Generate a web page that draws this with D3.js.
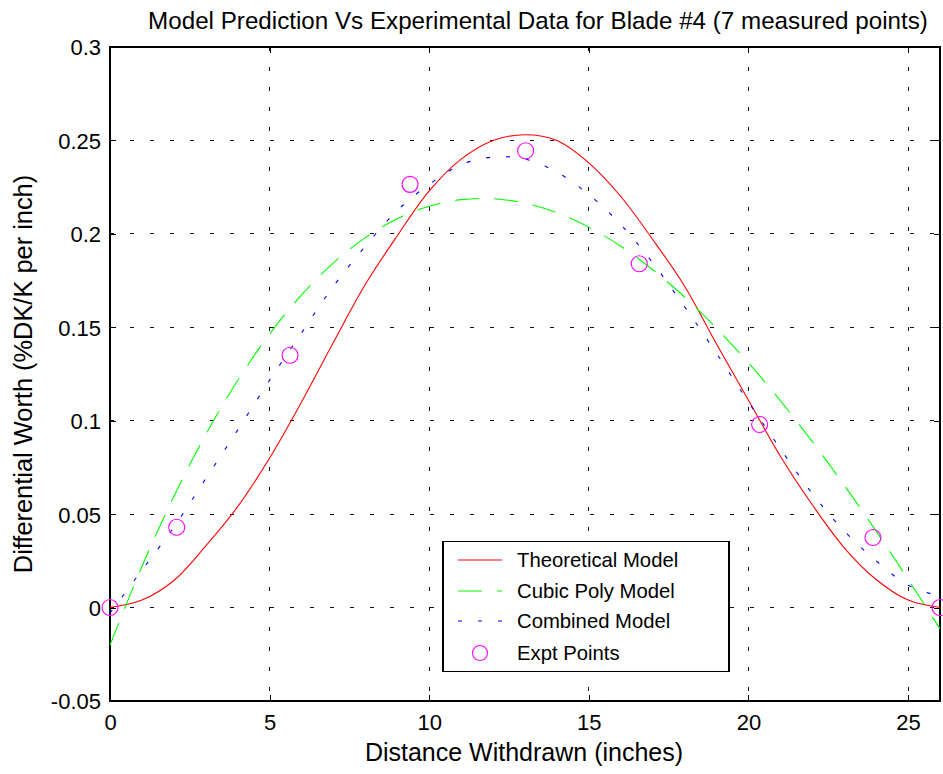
<!DOCTYPE html>
<html>
<head>
<meta charset="utf-8">
<script src="https://cdn.jsdelivr.net/npm/d3@7"></script>
<style>
  html, body { margin: 0; padding: 0; background: #fff; overflow: hidden; }
  svg { display: block; font-family: "Liberation Sans", Arial, sans-serif; }
</style>
</head>
<body>
<svg id="chart" width="943" height="774"></svg>
<script>
// ---- Data ----
const xGrid = [0,1,2,3,4,5,6,7,8,9,10,11,12,13,14,15,16,17,18,19,20,21,22,23,24,25,26];
const theoretical = [0,0.004,0.0145,0.033,0.054,0.080,0.110,0.142,0.173,0.199,0.223,0.240,0.250,0.253,0.250,0.238,0.220,0.197,0.172,0.141,0.111,0.081,0.055,0.032,0.015,0.004,0];
const cubicPoly = [-0.020,0.022,0.0595,0.0926,0.1215,0.1464,0.1673,0.1845,0.198,0.2081,0.2148,0.2183,0.2188,0.2164,0.2113,0.2036,0.1934,0.1808,0.1662,0.1495,0.1309,0.1107,0.0888,0.0655,0.0409,0.0151,-0.0114];
const combined = [-0.003,0.020,0.043,0.069,0.095,0.1217,0.147,0.172,0.1934,0.2125,0.2265,0.237,0.2411,0.240,0.233,0.221,0.205,0.1845,0.161,0.136,0.110,0.085,0.061,0.041,0.025,0.012,0.006];
const exptX = [0,2.09,5.64,9.4,13.02,16.58,20.35,23.9,26];
const exptY = [0,0.043,0.135,0.2265,0.2445,0.184,0.098,0.0375,0];
const xTicks = [0,5,10,15,20,25];
const yTicks = [-0.05,0,0.05,0.1,0.15,0.2,0.25,0.3];
const legendLabels = ["Theoretical Model","Cubic Poly Model","Combined Model","Expt Points"];
const titleText = "Model Prediction Vs Experimental Data for Blade #4 (7 measured points)";
const xLabelText = "Distance Withdrawn (inches)";
const yLabelText = "Differential Worth (%DK/K per inch)";

// ---- Layout ----
const L = 110, R = 940, T = 47, B = 701;
const svg = d3.select("#chart");
const x = d3.scaleLinear().domain([0, 26]).range([L, R]);
const y = d3.scaleLinear().domain([-0.05, 0.3]).range([B, T]);

// grid
const grid = svg.append("g").attr("stroke", "#111").attr("stroke-width", 1)
  .attr("stroke-dasharray", "4,16").attr("shape-rendering", "crispEdges");
xTicks.forEach(t => {
  if (t === 0) return;
  grid.append("line").attr("x1", x(t)).attr("x2", x(t)).attr("y1", T).attr("y2", B);
});
yTicks.forEach(t => {
  if (t === -0.05 || t === 0.3) return;
  grid.append("line").attr("x1", L).attr("x2", R).attr("y1", y(t)).attr("y2", y(t));
});

// axes (ticks inward on all sides)
const fs = 22;
const fmt = d => String(+(+d).toFixed(2));
const axB = svg.append("g").attr("transform", `translate(0,${B})`)
  .call(d3.axisBottom(x).tickValues(xTicks).tickSizeInner(-6).tickSizeOuter(0).tickPadding(13).tickFormat(fmt));
const axT = svg.append("g").attr("transform", `translate(0,${T})`)
  .call(d3.axisTop(x).tickValues(xTicks).tickSizeInner(-6).tickSizeOuter(0).tickFormat(""));
const axL = svg.append("g").attr("transform", `translate(${L},0)`)
  .call(d3.axisLeft(y).tickValues(yTicks).tickSizeInner(-6).tickSizeOuter(0).tickPadding(9).tickFormat(fmt));
const axR = svg.append("g").attr("transform", `translate(${R},0)`)
  .call(d3.axisRight(y).tickValues(yTicks).tickSizeInner(-6).tickSizeOuter(0).tickFormat(""));
[axB, axT, axL, axR].forEach(a => {
  a.select(".domain").remove();
  a.selectAll("line").attr("stroke", "#000").attr("shape-rendering", "crispEdges");
  a.selectAll("text").attr("font-size", fs).attr("fill", "#000")
    .attr("font-family", "'Liberation Sans', Arial, sans-serif");
});
axL.selectAll("text").attr("dy", "0.36em");

// box
svg.append("rect").attr("x", L).attr("y", T).attr("width", R - L).attr("height", B - T)
  .attr("fill", "none").attr("stroke", "#000").attr("stroke-width", 1.2).attr("shape-rendering", "crispEdges");

// lines
const line = (vals) => d3.line().x((d, i) => x(xGrid[i])).y(d => y(d)).curve(d3.curveCatmullRom)(vals);
svg.append("path").attr("d", line(theoretical)).attr("fill", "none").attr("stroke", "#ff0000").attr("stroke-width", 1.1);
svg.append("path").attr("d", line(cubicPoly)).attr("fill", "none").attr("stroke", "#00ff00").attr("stroke-width", 1.1)
  .attr("stroke-dasharray", "24,15");
svg.append("path").attr("d", line(combined)).attr("fill", "none").attr("stroke", "#0000ff").attr("stroke-width", 1.1)
  .attr("stroke-dasharray", "4,16");

// points
svg.append("g").selectAll("circle").data(exptX).join("circle")
  .attr("cx", d => x(d)).attr("cy", (d, i) => y(exptY[i])).attr("r", 8)
  .attr("fill", "none").attr("stroke", "#ff00ff").attr("stroke-width", 1.1);

// title and labels
svg.append("text").attr("x", 538).attr("y", 29).attr("text-anchor", "middle")
  .attr("font-size", 24.2).text(titleText);
svg.append("text").attr("x", 524).attr("y", 761).attr("text-anchor", "middle")
  .attr("font-size", 25).text(xLabelText);
svg.append("text").attr("transform", `translate(32,${(T + B) / 2}) rotate(-90)`).attr("text-anchor", "middle")
  .attr("font-size", 25.4).text(yLabelText);

// legend
const lg = svg.append("g");
lg.append("rect").attr("x", 443).attr("y", 541.5).attr("width", 286).attr("height", 130)
  .attr("fill", "#fff").attr("stroke", "#000").attr("stroke-width", 1.2).attr("shape-rendering", "crispEdges");
const rowY = [560, 591, 621, 653];
const styles = [
  {c: "#ff0000", d: null},
  {c: "#00ff00", d: "24,15"},
  {c: "#0000ff", d: "4,16"},
];
styles.forEach((s, i) => {
  const l = lg.append("line").attr("x1", 458).attr("x2", 502).attr("y1", rowY[i]).attr("y2", rowY[i])
    .attr("stroke", s.c).attr("stroke-width", 1.1);
  if (s.d) l.attr("stroke-dasharray", s.d);
});
lg.append("circle").attr("cx", 480).attr("cy", rowY[3]).attr("r", 7.5)
  .attr("fill", "none").attr("stroke", "#ff00ff").attr("stroke-width", 1.1);
legendLabels.forEach((t, i) => {
  lg.append("text").attr("x", 517).attr("y", rowY[i]).attr("dy", "0.36em").attr("font-size", 20.3).text(t);
});
</script>
</body>
</html>
